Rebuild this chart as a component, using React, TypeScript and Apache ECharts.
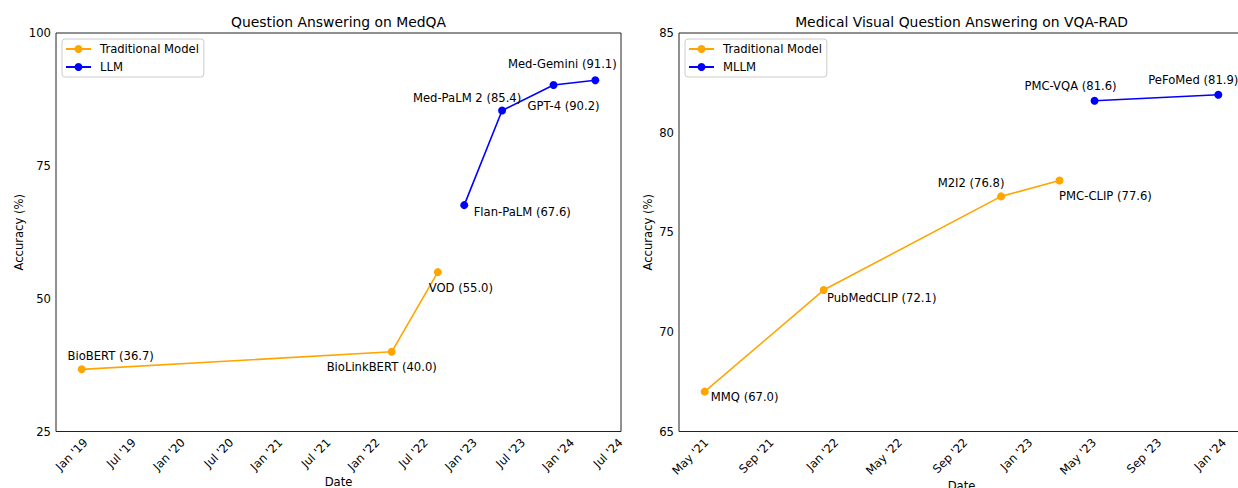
import React, { useEffect, useRef } from "react";
import * as echarts from "echarts";

const FONT = "DejaVu Sans";
const ORANGE = "#FFA500";
const BLUE = "#0000FF";

// ---- Left panel: Question Answering on MedQA ----
const medqaTradNames = ["BioBERT", "BioLinkBERT", "VOD"];
const medqaTradDates = ["2018-12-17", "2022-02-23", "2022-08-15"];
const medqaTradValues = [36.7, 40.0, 55.0];

const medqaLlmNames = ["Flan-PaLM", "Med-PaLM 2", "GPT-4", "Med-Gemini"];
const medqaLlmDates = ["2022-11-22", "2023-04-13", "2023-10-23", "2024-03-28"];
const medqaLlmValues = [67.6, 85.4, 90.2, 91.1];

const medqaTickDates = [
  "2019-01-01", "2019-07-01", "2020-01-01", "2020-07-01", "2021-01-01", "2021-07-01",
  "2022-01-01", "2022-07-01", "2023-01-01", "2023-07-01", "2024-01-01", "2024-07-01",
];
const medqaTickLabels = [
  "Jan '19", "Jul '19", "Jan '20", "Jul '20", "Jan '21", "Jul '21",
  "Jan '22", "Jul '22", "Jan '23", "Jul '23", "Jan '24", "Jul '24",
];
const medqaYMin = 25;
const medqaYMax = 100;
const medqaYStep = 25;

// ---- Right panel: Medical VQA on VQA-RAD ----
const vqaTradNames = ["MMQ", "PubMedCLIP", "M2I2", "PMC-CLIP"];
const vqaTradDates = ["2021-04-28", "2021-12-08", "2022-11-07", "2023-02-25"];
const vqaTradValues = [67.0, 72.1, 76.8, 77.6];

const vqaMllmNames = ["PMC-VQA", "PeFoMed"];
const vqaMllmDates = ["2023-05-02", "2023-12-21"];
const vqaMllmValues = [81.6, 81.9];

const vqaTickDates = [
  "2021-05-01", "2021-09-01", "2022-01-01", "2022-05-01", "2022-09-01",
  "2023-01-01", "2023-05-01", "2023-09-01", "2024-01-01",
];
const vqaTickLabels = [
  "May '21", "Sep '21", "Jan '22", "May '22", "Sep '22",
  "Jan '23", "May '23", "Sep '23", "Jan '24",
];
const vqaYMin = 65;
const vqaYMax = 85;
const vqaYStep = 5;

// annotation placement (label centre relative to point, px)
const medqaTradLabelOffsets = [[29, -13], [-10, 15], [23, 16]];
const medqaLlmLabelOffsets = [[58, 7], [-35, -13], [10, 21], [-33, -16]];
const vqaTradLabelOffsets = [[40, 5], [58, 8], [-30, -13], [46, 16]];
const vqaMllmLabelOffsets = [[-24, -15], [-25, -15]];

function toYear(s: string): number {
  const [y, m, d] = s.split("-").map(Number);
  const start = Date.UTC(y, 0, 1);
  const end = Date.UTC(y + 1, 0, 1);
  return y + (Date.UTC(y, m - 1, d) - start) / (end - start);
}

function paddedRange(dateLists: string[][]): [number, number] {
  const xs = dateLists.flat().map(toYear);
  const lo = Math.min(...xs);
  const hi = Math.max(...xs);
  const pad = (hi - lo) * 0.05;
  return [lo - pad, hi + pad];
}

function buildData(names: string[], dates: string[], values: number[]) {
  return names.map((n, i) => ({
    name: n,
    value: [toYear(dates[i]), values[i]],
  }));
}

function lineSeries(name: string, color: string, data: any[], axisIndex: number, offsets: number[][]) {
  return {
    type: "line",
    name,
    xAxisIndex: axisIndex,
    yAxisIndex: axisIndex,
    data,
    symbol: "circle",
    symbolSize: 8,
    showSymbol: true,
    lineStyle: { color, width: 1.6 },
    itemStyle: { color },
    emphasis: { disabled: true },
    label: {
      show: true,
      position: "inside",
      align: "center",
      verticalAlign: "middle",
      color: "#000",
      fontFamily: FONT,
      fontSize: 11.6,
      formatter: (p: any) => `${p.name} (${p.value[1].toFixed(1)})`,
    },
    labelLayout: (p: any) => ({
      dx: offsets[p.dataIndex][0],
      dy: offsets[p.dataIndex][1],
      hideOverlap: false,
    }),
    z: 3,
  };
}

const GRID_TOP = 33;
const GRID_BOTTOM = 56.5;
const GRID_W = 565;

function xAxisOf(gridIndex: number, range: [number, number], tickDates: string[], tickLabels: string[], nameGap: number) {
  const vals = tickDates.map(toYear);
  return {
    type: "value",
    gridIndex,
    min: range[0],
    max: range[1],
    name: "Date",
    nameLocation: "middle",
    nameGap,
    nameMoveOverlap: false,
    nameTextStyle: { color: "#000", fontFamily: FONT, fontSize: 11.6 },
    axisLine: { show: false },
    axisTick: { show: false },
    splitLine: { show: false },
    axisLabel: {
      customValues: vals,
      rotate: 45,
      margin: 9,
      showMinLabel: true,
      showMaxLabel: true,
      color: "#000",
      fontFamily: FONT,
      fontSize: 11.6,
      formatter: (v: number) => {
        let best = 0;
        for (let i = 1; i < vals.length; i++) {
          if (Math.abs(vals[i] - v) < Math.abs(vals[best] - v)) best = i;
        }
        return tickLabels[best];
      },
    },
  };
}

function yAxisOf(gridIndex: number, min: number, max: number, step: number, gap: number) {
  return {
    type: "value",
    gridIndex,
    min,
    max,
    interval: step,
    name: "Accuracy (%)",
    nameLocation: "middle",
    nameGap: gap,
    nameMoveOverlap: false,
    nameTextStyle: { color: "#000", fontFamily: FONT, fontSize: 11.6 },
    axisLine: { show: false },
    axisTick: { show: false },
    splitLine: { show: false },
    axisLabel: { margin: 5, color: "#000", fontFamily: FONT, fontSize: 11.6 },
  };
}

function legendOf(left: number, names: string[]) {
  return {
    left,
    top: 39,
    orient: "vertical",
    data: names,
    itemWidth: 25,
    itemHeight: 10,
    itemGap: 6,
    padding: [4, 5, 4, 3],
    borderColor: "#cccccc",
    borderWidth: 1,
    borderRadius: 3,
    backgroundColor: "rgba(255,255,255,0.8)",
    selectedMode: false,
    textStyle: { color: "#000", fontFamily: FONT, fontSize: 11.6, padding: [0, 0, 0, 4] },
  };
}

const gridBase = {
  top: GRID_TOP,
  width: GRID_W,
  bottom: GRID_BOTTOM,
  show: true,
  borderColor: "#222",
  borderWidth: 1,
  backgroundColor: "transparent",
  containLabel: false,
  outerBoundsMode: "none",
};

export default function App() {
  const ref = useRef<HTMLDivElement>(null);

  useEffect(() => {
    if (!ref.current) return;
    const chart = echarts.init(ref.current, undefined, { renderer: "svg" });

    const leftRange = paddedRange([medqaTradDates, medqaLlmDates]);
    const rightRange = paddedRange([vqaTradDates, vqaMllmDates]);

    chart.setOption({
      animation: false,
      backgroundColor: "#ffffff",
      textStyle: { fontFamily: FONT },
      title: [
        {
          text: "Question Answering on MedQA",
          left: 56 + GRID_W / 2,
          top: 15,
          textAlign: "center",
          padding: 0,
          textStyle: { color: "#000", fontFamily: FONT, fontSize: 13.9, fontWeight: "normal" },
        },
        {
          text: "Medical Visual Question Answering on VQA-RAD",
          left: 679 + GRID_W / 2,
          top: 15,
          textAlign: "center",
          padding: 0,
          textStyle: { color: "#000", fontFamily: FONT, fontSize: 13.9, fontWeight: "normal" },
        },
      ],
      legend: [
        legendOf(62, ["Traditional Model", "LLM"]),
        legendOf(685, ["Traditional Model", "MLLM"]),
      ],
      grid: [
        { ...gridBase, left: 56 },
        { ...gridBase, left: 679 },
      ],
      xAxis: [
        xAxisOf(0, leftRange, medqaTickDates, medqaTickLabels, 44),
        xAxisOf(1, rightRange, vqaTickDates, vqaTickLabels, 48),
      ],
      yAxis: [
        yAxisOf(0, medqaYMin, medqaYMax, medqaYStep, 31),
        yAxisOf(1, vqaYMin, vqaYMax, vqaYStep, 25),
      ],
      series: [
        lineSeries("Traditional Model", ORANGE, buildData(medqaTradNames, medqaTradDates, medqaTradValues), 0, medqaTradLabelOffsets),
        lineSeries("LLM", BLUE, buildData(medqaLlmNames, medqaLlmDates, medqaLlmValues), 0, medqaLlmLabelOffsets),
        lineSeries("Traditional Model", ORANGE, buildData(vqaTradNames, vqaTradDates, vqaTradValues), 1, vqaTradLabelOffsets),
        lineSeries("MLLM", BLUE, buildData(vqaMllmNames, vqaMllmDates, vqaMllmValues), 1, vqaMllmLabelOffsets),
      ],
    });

    return () => chart.dispose();
  }, []);

  return (
    <div
      ref={ref}
      style={{ position: "fixed", left: 0, top: 0, width: 1238, height: 488, background: "#fff" }}
    />
  );
}
